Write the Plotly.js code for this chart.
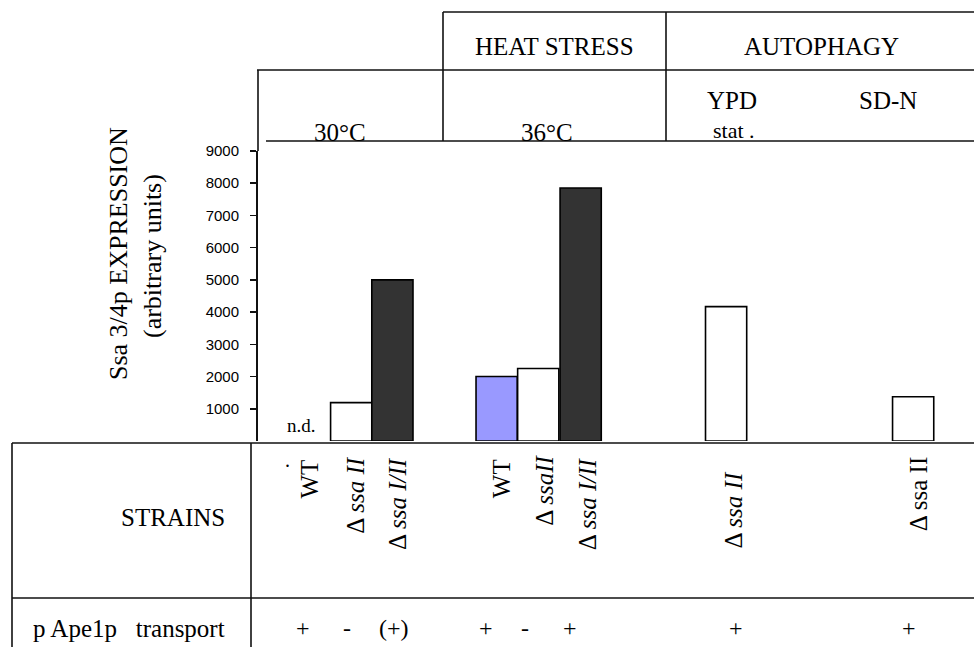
<!DOCTYPE html>
<html>
<head>
<meta charset="utf-8">
<script src="https://cdn.plot.ly/plotly-3.0.1.min.js"></script>
<style>html,body{margin:0;padding:0;background:#fff;}#chart{width:974px;height:647px;}</style>
</head>
<body>
<div id="chart"></div>
<script>
// ---------- data ----------
const strainLabels = ['WT', '\u0394 <i>ssa II</i>', '\u0394 <i>ssa I/II</i>', 'WT', '\u0394 <i>ssaII</i>', '\u0394 <i>ssa I/II</i>', '\u0394 <i>ssa II</i>', '\u0394 ssa II'];
const barSlot = [0, 1, 2, 4.53, 5.54, 6.57, 10.1, 14.64];
const expression = [null, 1190, 5000, 2000, 2250, 7850, 4170, 1375];
const barColors = ['#ffffff', '#ffffff', '#333333', '#9999ff', '#ffffff', '#333333', '#ffffff', '#ffffff'];
const transport = ['+', '-', '(+)', '+', '-', '+', '+', '+'];
const transportShift = [-7, -4, 2, -11, -13, -11, 10, -4];
const labelShift = [0, 4, 5, 5, 6, 7, 7, 5];
const labelTop = [457, 455, 455, 457, 453, 455, 470, 455];
const yTicks = [1000, 2000, 3000, 4000, 5000, 6000, 7000, 8000, 9000];
const notDetected = 'n.d.';

// ---------- geometry helpers (pixel -> paper) ----------
const L = 258, R = 974, T = 151, B = 441;
const px = p => (p - L) / (R - L);
const py = p => (B - p) / (B - T);
const SERIF = '"Liberation Serif", "Times New Roman", Times, serif';
const SANS = '"Liberation Sans", Arial, sans-serif';

const trace = {
  type: 'bar',
  x: barSlot,
  y: expression,
  width: 1,
  marker: {color: barColors, line: {color: '#000', width: 1.6}},
  hoverinfo: 'skip'
};

function hline(y, x0, x1) {
  return {type: 'line', xref: 'paper', yref: 'paper', x0: px(x0), x1: px(x1), y0: py(y), y1: py(y), line: {color: '#111', width: 1.6}};
}
function vline(x, y0, y1) {
  return {type: 'line', xref: 'paper', yref: 'paper', x0: px(x), x1: px(x), y0: py(y0), y1: py(y1), line: {color: '#111', width: 1.6}};
}
const shapes = [
  hline(12, 443, 974),
  hline(70, 257, 974),
  hline(141, 266, 974),
  vline(443, 12, 141),
  vline(666, 12, 141),
  vline(258, 70, 151),
  hline(443, 12, 974),
  vline(12, 443, 647),
  vline(251, 443, 647),
  hline(598, 12, 974)
];

function txt(text, x, y, size, extra) {
  return Object.assign({text: text, xref: 'paper', yref: 'paper', x: px(x), y: py(y), showarrow: false,
    xanchor: 'center', yanchor: 'middle', font: {family: SERIF, size: size, color: '#000'}}, extra || {});
}

const annotations = [
  txt('HEAT STRESS', 554, 47, 25),
  txt('AUTOPHAGY', 821, 47, 25),
  txt('YPD', 732, 100, 25),
  txt('SD-N', 888, 100, 25),
  txt('stat .', 734, 130, 22),
  txt('30°C', 340, 132, 25),
  txt('36°C', 547, 132, 25),
  txt('Ssa 3/4p EXPRESSION', 118, 254, 26, {textangle: -90}),
  txt('(arbitrary units)', 152, 256, 26, {textangle: -90}),
  txt('STRAINS', 173, 517, 25),
  txt('p Ape1p\u00a0\u00a0 transport', 129, 628, 25),
  txt('.', 287, 460, 20)
];

strainLabels.forEach((s, i) => {
  annotations.push({
    text: s, xref: 'x', yref: 'paper', x: barSlot[i], y: py(labelTop[i]), xshift: labelShift[i],
    textangle: -90, showarrow: false, xanchor: 'center', yanchor: 'top',
    font: {family: SERIF, size: 25, color: '#000'}
  });
  annotations.push({
    text: transport[i], xref: 'x', yref: 'paper', x: barSlot[i], y: py(628), xshift: transportShift[i],
    showarrow: false, xanchor: 'center', yanchor: 'middle',
    font: {family: SERIF, size: 24, color: '#000'}
  });
});
annotations.push({
  text: notDetected, xref: 'x', yref: 'y', x: barSlot[0], y: 0, xshift: -8, yshift: 16,
  showarrow: false, xanchor: 'center', yanchor: 'middle',
  font: {family: SERIF, size: 19, color: '#000'}
});

const layout = {
  width: 974, height: 647,
  margin: {l: L, r: 974 - R, t: T, b: 647 - B, pad: 0},
  paper_bgcolor: '#fff', plot_bgcolor: '#fff',
  showlegend: false,
  bargap: 0,
  xaxis: {range: [-1.262, 16.117], visible: false, fixedrange: true},
  yaxis: {
    range: [0, 9000], tickvals: yTicks, ticktext: yTicks.map(String),
    showgrid: false, zeroline: false, showline: true, linecolor: '#111', linewidth: 2,
    ticks: 'outside', ticklen: 6, tickwidth: 1.5, tickcolor: '#111', ticklabelstandoff: 8,
    tickfont: {family: SANS, size: 15, color: '#000'}, fixedrange: true
  },
  shapes: shapes,
  annotations: annotations
};

Plotly.newPlot('chart', [trace], layout, {displayModeBar: false, staticPlot: true});
</script>
</body>
</html>
